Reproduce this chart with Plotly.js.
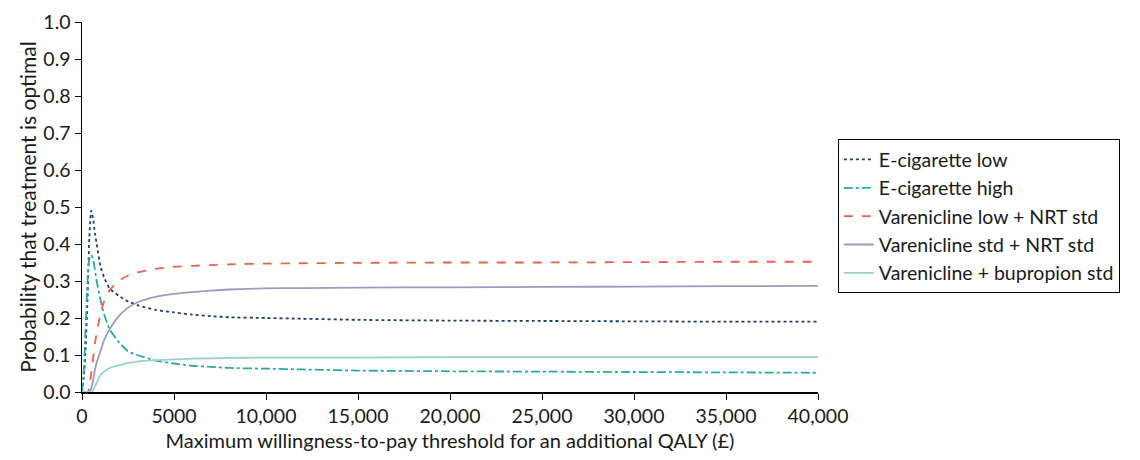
<!DOCTYPE html>
<html>
<head>
<meta charset="utf-8">
<script src="https://cdn.plot.ly/plotly-3.0.1.min.js"></script>
<style>
html,body{margin:0;padding:0;background:#fff;}
#chart{width:1140px;height:460px;}
</style>
</head>
<body>
<div id="chart"></div>
<script>
const wtp = [0,100,200,300,400,500,600,700,800,1000,1200,1500,2000,2500,3000,4000,5000,6000,7000,8000,10000,12000,15000,20000,25000,30000,35000,40000];
const ecigLow = [0,0.04,0.12,0.25,0.42,0.49,0.47,0.43,0.40,0.34,0.31,0.28,0.26,0.245,0.235,0.222,0.215,0.209,0.205,0.202,0.2,0.198,0.195,0.193,0.192,0.191,0.19,0.19];
const ecigHigh = [0,0.06,0.18,0.3,0.36,0.37,0.36,0.33,0.3,0.25,0.21,0.17,0.135,0.11,0.1,0.085,0.077,0.071,0.068,0.065,0.063,0.061,0.058,0.056,0.055,0.054,0.053,0.052];
const vareLowNrt = [0,0,0,0,0.01,0.05,0.09,0.13,0.16,0.21,0.245,0.275,0.3,0.315,0.323,0.333,0.338,0.341,0.343,0.345,0.347,0.348,0.349,0.35,0.35,0.351,0.352,0.352];
const vareStdNrt = [0,0,0,0,0,0.01,0.03,0.06,0.08,0.11,0.14,0.17,0.205,0.228,0.242,0.257,0.265,0.27,0.274,0.277,0.28,0.281,0.282,0.283,0.284,0.285,0.286,0.287];
const vareBup = [0,0,0,0,0,0,0.005,0.015,0.025,0.045,0.055,0.065,0.072,0.078,0.082,0.086,0.088,0.09,0.091,0.092,0.093,0.093,0.093,0.094,0.094,0.094,0.094,0.094];
const seriesNames = ["E-cigarette low","E-cigarette high","Varenicline low + NRT std","Varenicline std + NRT std","Varenicline + bupropion std"];
const xTickVals = [0,5000,10000,15000,20000,25000,30000,35000,40000];
const xTickText = ["0","5000","10,000","15,000","20,000","25,000","30,000","35,000","40,000"];
const yTickVals = [0,0.1,0.2,0.3,0.4,0.5,0.6,0.7,0.8,0.9,1.0];

const styles = [
  {color:'#1f3f6e', dash:'dot', width:1.8},
  {color:'#2aa9a7', dash:'dashdot', width:1.8},
  {color:'#f0604f', dash:'dash', width:1.8},
  {color:'#9d9bc2', dash:'solid', width:1.8},
  {color:'#98d0d0', dash:'solid', width:1.8}
];
const ys = [ecigLow, ecigHigh, vareLowNrt, vareStdNrt, vareBup];
const traces = ys.map((y,i)=>({
  x: wtp, y: y, name: seriesNames[i], type:'scatter', mode:'lines',
  line: {color: styles[i].color, dash: styles[i].dash, width: styles[i].width, shape:'spline', smoothing:0.6}
}));

const fam = 'Lato, "Open Sans", sans-serif';
const layout = {
  width:1140, height:460,
  margin:{l:82, r:322, t:22, b:68},
  paper_bgcolor:'#fff', plot_bgcolor:'#fff',
  font: {family:fam, size:19, color:'#1a1a1a'},
  showlegend:true,
  legend:{x:1.027, xanchor:'left', y:0.683, yanchor:'top', bordercolor:'#000', borderwidth:1, bgcolor:'#fff', font:{family:fam, size:19.5, color:'#1a1a1a'}, tracegroupgap:0},
  xaxis:{range:[0,40000], tickvals:xTickVals, ticktext:xTickText, showline:true, linecolor:'#000', linewidth:1.5, ticks:'outside', ticklen:6, tickcolor:'#000', showgrid:false, zeroline:false,
         tickfont:{family:fam, size:19.5},
         title:{text:'Maximum willingness-to-pay threshold for an additional QALY (£)', font:{family:fam, size:20}, standoff:8}},
  yaxis:{range:[0,1], tickvals:yTickVals, tickformat:'.1f', showline:true, linecolor:'#000', linewidth:1.5, ticks:'outside', ticklen:6, tickcolor:'#000', showgrid:false, zeroline:false,
         tickfont:{family:fam, size:19.5},
         title:{text:'Probability that treatment is optimal', font:{family:fam, size:21}, standoff:1}}
};
Plotly.newPlot('chart', traces, layout, {displayModeBar:false, staticPlot:true});
</script>
</body>
</html>
